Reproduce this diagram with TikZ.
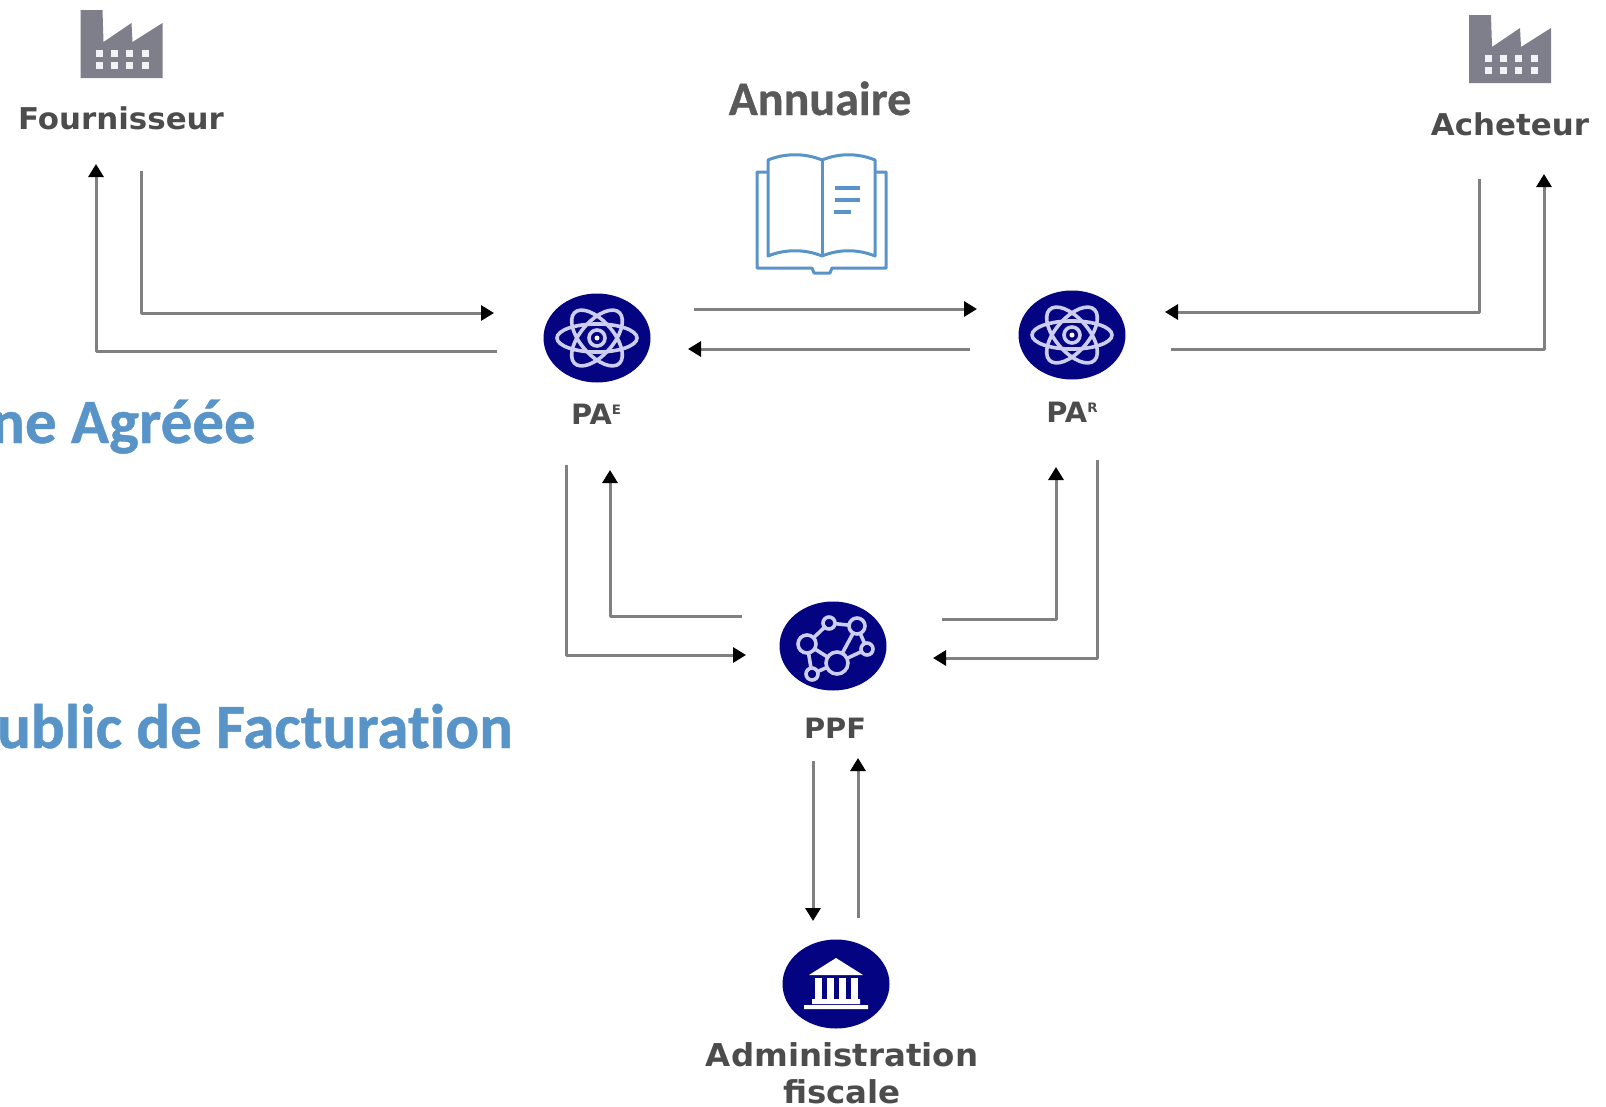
\documentclass[tikz,border=0pt]{standalone}
\usepackage{fontspec}
\setmainfont[BoldFeatures={FakeBold=0.7}]{Carlito}
\newfontfamily\blurfont[FakeStretch=1.03]{DejaVu Sans}
\usetikzlibrary{arrows.meta,shapes.geometric}
\definecolor{navydisc}{RGB}{4,4,130}
\definecolor{iconline}{RGB}{205,205,240}
\definecolor{bookblue}{RGB}{88,148,200}
\definecolor{plantgray}{RGB}{127,127,140}
\newcommand\upmark[1]{\raisebox{10pt}{\fontsize{13}{13}\selectfont #1}}
\tikzset{
    flow/.style={draw=black!50,line width=3pt,line join=round,-{Triangle[black,length=13pt,width=15pt]}},
    disc/.style={ellipse,fill=navydisc,inner sep=0pt,minimum width=107pt,minimum height=89pt},
    blurlabel/.style={text=black!70,inner sep=0pt,align=center,font=\blurfont\bfseries\fontsize{30}{37}\selectfont},
    smalllabel/.style={blurlabel,font=\blurfont\bfseries\fontsize{28}{30}\selectfont},
    bluetitle/.style={text=bookblue,inner sep=0pt,anchor=base east,font=\bfseries\fontsize{63}{70}\selectfont},
    factory/.pic={
        \fill[plantgray] (-41,-34)--(-19,-34)--(-18,-2)--(10,-21)--(11,-2)--(41,-21)--(41,34)--(-41,34)--cycle;
        \foreach \x in {-22,-7,8,24} \foreach \y in {9,21}
            \fill[white!90!plantgray] (\x-3.5,\y-3.5) rectangle (\x+3.5,\y+3.5);
    },
    atom/.pic={
        \begin{scope}[yscale=.78,draw=iconline,line width=3.6pt]
            \foreach \r in {30,90,150} \draw[rotate=\r] (0,0) ellipse (18 and 40);
        \end{scope}
        \draw[iconline,line width=3.6pt,fill=navydisc] (0,0) circle (8);
        \fill[white] (0,0) circle (2.5);
    },
    molecule/.pic={
        \begin{scope}[draw=iconline,line width=3.6pt]
            \draw (-26,-2)--(-4,-23)--(24,-20)--(34,3)--(4,17)--(-26,-2)--(-21,28)--(4,17) (24,-20)--(4,17);
            \foreach \x/\y/\s in {-26/-2/9,-4/-23/6,24/-20/8,34/3/6,4/17/11,-21/28/6}
                \filldraw[fill=navydisc] (\x,\y) circle (\s);
        \end{scope}
    },
    bank/.pic={
        \fill[white] (-27,-9)--(0,-26)--(27,-9)--cycle (-24,15) rectangle (24,20) (-32,21) rectangle (32,25);
        \foreach \x in {-18,-6,6,18} \fill[white] (\x-3.5,-6) rectangle (\x+3.5,15);
    },
}
\begin{document}
\begin{tikzpicture}[x=1pt,y=-1pt]
    \useasboundingbox (0,0) rectangle (1606,1106);
    % icones
    \pic at (121.5,44) {factory};
    \pic at (1510,49) {factory};
    \node[disc] (pae) at (597,338) {};
    \node[disc] (par) at (1072,335) {};
    \node[disc] (ppf) at (833,646) {};
    \node[disc] (adm) at (836,984) {};
    \pic at (pae) {atom};
    \pic at (par) {atom};
    \pic at (ppf) {molecule};
    \pic at (adm) {bank};
    % textes
    \node[blurlabel] (fou) at (121,118) {Fournisseur};
    \node[blurlabel] (ach) at (1510,124) {Acheteur};
    \node[smalllabel] (tpae) at (596,414) {PA\upmark{E}};
    \node[smalllabel] (tpar) at (1072,412) {PA\upmark{R}};
    \node[smalllabel] (tppf) at (835,728) {PPF};
    \node[blurlabel,font=\blurfont\bfseries\fontsize{31.5}{37}\selectfont] (tadm) at (842,1073) {Administration\\fiscale};
    \node[text=black!65,inner sep=0pt,anchor=base,font=\bfseries\fontsize{48}{50}\selectfont] (ann) at (820,115) {Annuaire};
    \node[bluetitle] (pa) at (256,443) {ne Agréée};
    \node[bluetitle] (pf) at (513,748) {ublic de Facturat\kern0pt ion};
    % livre
    \begin{scope}[draw=bookblue,line width=3pt,line join=round]
        \draw (768,172)--(757,172)--(757,268)--(812,268)--(814,273)--(830,273)--(832,268)--(886,268)--(886,172)--(875,172);
        \draw (822,256) .. controls (805,249) and (785,249) .. (768,256)--(768,160)
            .. controls (785,153) and (805,153) .. (822,160)
            .. controls (839,153) and (858,153) .. (875,160)--(875,256)
            .. controls (858,249) and (839,249) .. (822,256)--cycle;
        \draw (822,160)--(822,256);
        \draw[line width=4pt] (835,188)--(860,188) (835,200)--(860,200) (834,212)--(851,212);
    \end{scope}
    % fleches
    \foreach \n/\x/\y in {fa/497/351,fb/96/351,fc/96/164,gA/141/171,gb/141/313,gc/494/313,
        ha/694/309,hb/977/309,ia/970/349,ib/688/349,
        ja/1479/179,jb/1479/312,jc/1165/312,ka/1171/349,kb/1544/349,kc/1544/174,
        la/566/465,lb/566/655,lc/746/655,ma/742/616,mb/610/616,mc/610/470,
        na/942/619,nb/1056/619,nc/1056/467,oa/1097/460,ob/1097/658,oc/933/658,
        pa1/813/761,pb1/813/921,qa/858/918,qb/858/758}
        \coordinate (\n) at (\x,\y);
    \foreach \a/\b/\c in {fa/fb/fc,gA/gb/gc,ja/jb/jc,ka/kb/kc,la/lb/lc,ma/mb/mc,na/nb/nc,oa/ob/oc}
        \draw[flow] (\a)--(\b)--(\c);
    \foreach \a/\b in {ha/hb,ia/ib,pa1/pb1,qa/qb} \draw[flow] (\a)--(\b);
\end{tikzpicture}
\end{document}
